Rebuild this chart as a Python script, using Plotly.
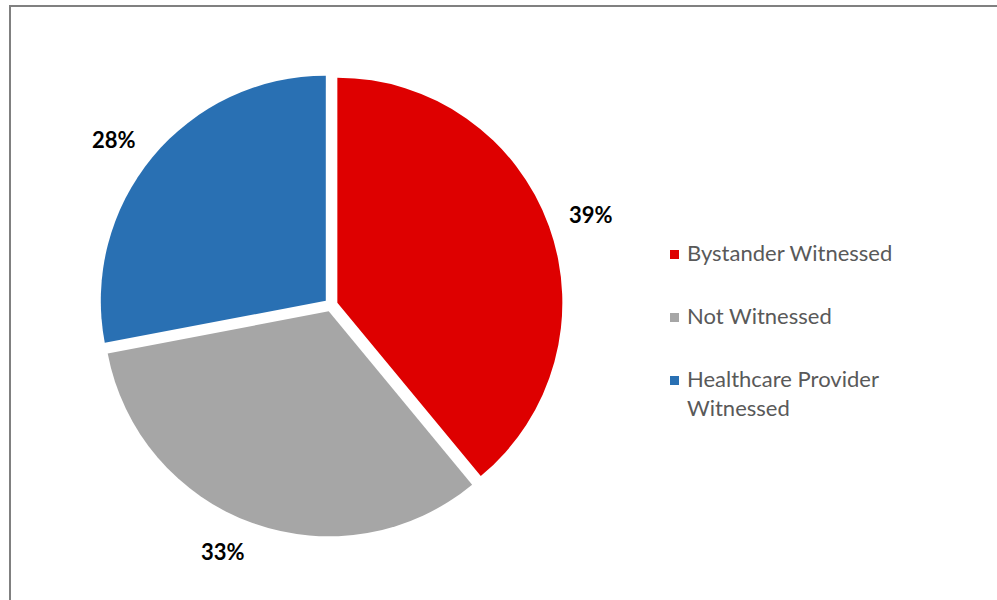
import math
import plotly.graph_objects as go

# Witness status share (%)
categories = ["Bystander Witnessed", "Not Witnessed", "Healthcare Provider Witnessed"]
legend_text = ["Bystander Witnessed", "Not Witnessed", "Healthcare Provider<br>Witnessed"]
values = [39, 33, 28]
colors = ["#DE0000", "#A6A6A6", "#2970B3"]

W, H = 997, 600

# Pie placement (pixels): centre and radius of the disc
CX, CY, R, PULL = 331, 305, 225, 0.03
half = R * (1 + PULL)

fig = go.Figure()
fig.add_trace(go.Pie(
    labels=categories,
    values=values,
    sort=False,
    direction="clockwise",
    rotation=0,
    pull=[PULL] * len(values),
    marker=dict(colors=colors, line=dict(width=0)),
    textinfo="none",
    showlegend=False,
    hoverinfo="label+percent",
    domain=dict(x=[(CX - half) / W, (CX + half) / W],
                y=[(H - CY - half) / H, (H - CY + half) / H]),
))

annotations = []
shapes = []

# Percentage labels outside each slice: anchored at a point beyond the rim
# on the slice's mid-angle, with the box's near side touching that point
total = sum(values)
cum = 0
for v in values:
    mid = (cum + v / 2) / total * 2 * math.pi  # clockwise from 12 o'clock
    cum += v
    s, c = math.sin(mid), math.cos(mid)
    dist = R + 27
    px = CX + dist * s
    py = CY - dist * c - 5
    xanchor = "left" if s > 0 else "right"
    yanchor = "top" if c < -0.7 else ("bottom" if c > 0.7 else "middle")
    annotations.append(dict(
        text=f"<b>{v}%</b>", xref="paper", yref="paper",
        x=px / W, y=1 - py / H, xanchor=xanchor, yanchor=yanchor,
        showarrow=False, borderpad=0,
        font=dict(family="Lato", size=22, color="#000000"),
    ))

# Legend: coloured squares with labels, widely spaced
legend_y = [253, 316, 379]
for txt, col, ypx in zip(legend_text, colors, legend_y):
    shapes.append(dict(
        type="rect", xref="paper", yref="paper",
        x0=670 / W, x1=679 / W, y0=1 - (ypx + 6) / H, y1=1 - (ypx - 3) / H,
        fillcolor=col, line=dict(width=0),
    ))
    annotations.append(dict(
        text=txt, xref="paper", yref="paper",
        x=685 / W, y=1 - (ypx - 16) / H, xanchor="left", yanchor="top",
        showarrow=False, align="left",
        font=dict(family="Lato", size=22, color="#595959"),
    ))

# Chart frame
shapes.append(dict(
    type="rect", xref="paper", yref="paper",
    x0=10 / W, x1=1.05, y0=-0.05, y1=1 - 6 / H,
    line=dict(color="#808080", width=2), fillcolor="rgba(0,0,0,0)",
))

fig.update_layout(
    width=W, height=H,
    margin=dict(l=0, r=0, t=0, b=0),
    paper_bgcolor="white",
    plot_bgcolor="white",
    shapes=shapes,
    annotations=annotations,
)

fig.write_html("out.html")
